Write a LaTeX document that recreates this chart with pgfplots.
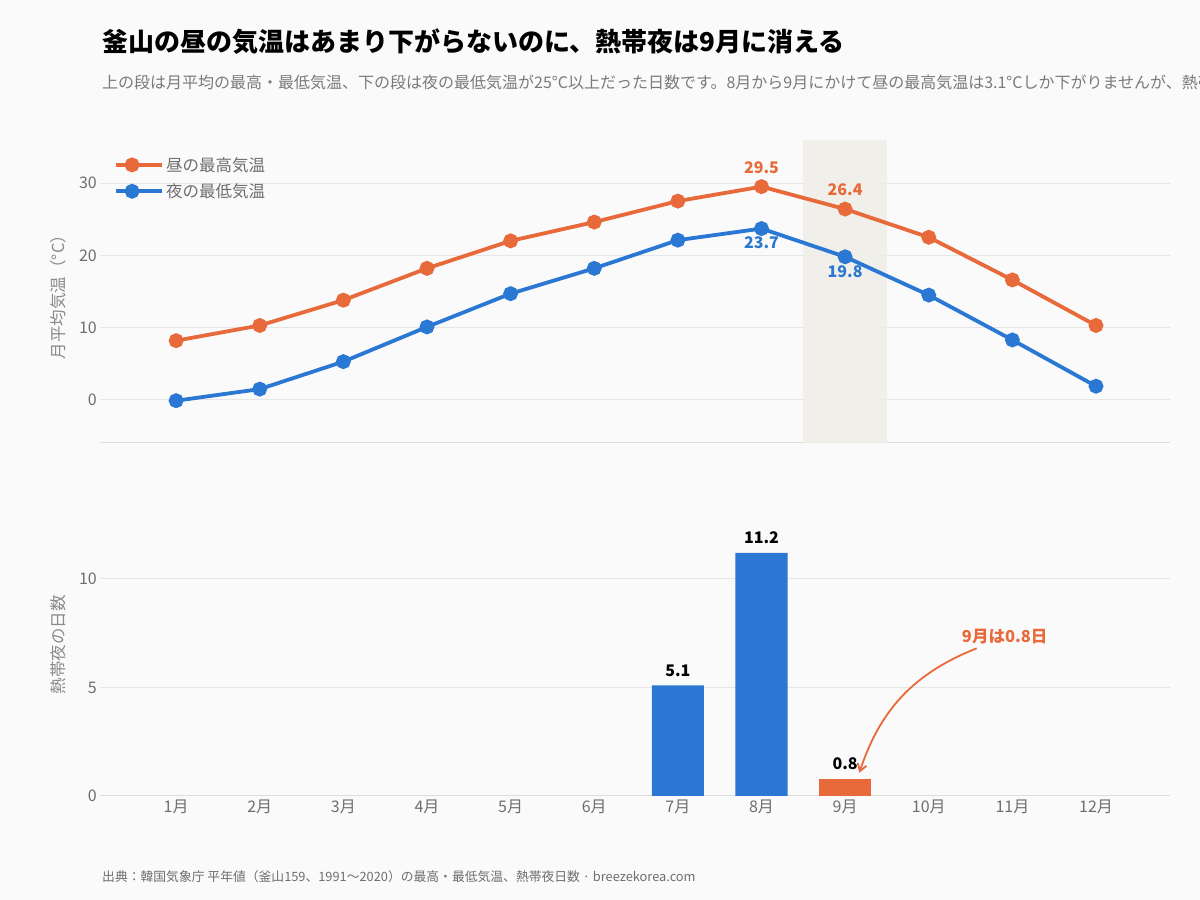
\documentclass[border=0pt]{standalone}
\usepackage{fontspec}
\setmainfont{Noto Sans CJK JP}
\usepackage{pgfplots}
\pgfplotsset{compat=1.18}
\usetikzlibrary{arrows.meta}

\definecolor{orn}{HTML}{E8693A}
\definecolor{blu}{HTML}{2A78D3}
\definecolor{bg}{HTML}{FAFAFA}
\definecolor{band}{HTML}{EFEEE8}
\definecolor{gridc}{HTML}{E6E6E6}
\definecolor{basec}{HTML}{DDDDDD}
\definecolor{tickc}{HTML}{6E6E6E}
\definecolor{labc}{HTML}{8A8A8A}
\definecolor{subc}{HTML}{7A7A7A}

\pgfplotsset{
  chartbase/.style={
    scale only axis, width=1070pt,
    xmin=0.09, xmax=12.885,
    /pgf/number format/assume math mode=true,
    separate axis lines,
    axis x line*=bottom, axis y line*=left,
    y axis line style={draw=none},
    x axis line style={draw=basec, line width=1pt},
    major tick length=0pt,
    ymajorgrids, grid style={gridc, line width=1pt},
    ticklabel style={font=\fontsize{16}{19}\selectfont, text=tickc},
    yticklabel style={inner sep=0pt, xshift=-3pt},
    clip=false,
  },
}

\begin{document}
\begin{tikzpicture}
\fill[bg] (0pt,0pt) rectangle (1200pt,900pt);
\useasboundingbox (0pt,0pt) rectangle (1200pt,900pt);
\begin{scope}
\clip (0pt,0pt) rectangle (1200pt,900pt);
\node[anchor=west, inner sep=0pt, font=\fontsize{26}{30}\selectfont\bfseries] at (102pt,858pt)
  {釜山の昼の気温はあまり下がらないのに、熱帯夜は9月に消える};
\node[anchor=west, inner sep=0pt, text=subc, font=\fontsize{16}{19}\selectfont] at (102pt,818pt)
  {上の段は月平均の最高・最低気温、下の段は夜の最低気温が25°C以上だった日数です。8月から9月にかけて昼の最高気温は3.1°Cしか下がりませんが、熱帯夜は};
\end{scope}

\node[rotate=90, text=labc, font=\fontsize{16.5}{19}\selectfont] at (58pt,607pt) {月平均気温（°C）};
\node[rotate=90, text=labc, font=\fontsize{16.5}{19}\selectfont] at (58pt,255pt) {熱帯夜の日数};

% upper panel: monthly mean max / min temperature
\begin{axis}[chartbase,
  at={(100pt,457pt)}, anchor=south west, height=303pt,
  ymin=-5.95, ymax=35.95, ytick={0,10,20,30}, xtick=\empty,
  legend style={at={(rel axis cs:0,1)}, anchor=north west, xshift=14pt, yshift=-15pt,
    draw=none, fill=none, inner sep=0pt, row sep=7pt,
    font=\fontsize{16.5}{19}\selectfont, text=tickc},
  legend cell align=left,
  legend image code/.code={\draw[mark repeat=2, mark phase=2] plot coordinates {(0pt,0pt)(16pt,0pt)(32pt,0pt)};
    \path (0pt,0pt) -- (46pt,0pt);},
]
\addplot[draw=none, fill=band, fill opacity=0.85, forget plot]
  coordinates {(8.5,-5.95) (9.5,-5.95) (9.5,35.95) (8.5,35.95)} -- cycle;
\addplot[orn, line width=3.8pt, mark=*, mark size=5.5pt, mark options={solid, fill=orn, draw=none}]
  coordinates {(1,8.2) (2,10.3) (3,13.8) (4,18.2) (5,22.0) (6,24.6) (7,27.5) (8,29.5) (9,26.4) (10,22.5) (11,16.6) (12,10.3)};
\addlegendentry{昼の最高気温}
\addplot[blu, line width=3.8pt, mark=*, mark size=5.5pt, mark options={solid, fill=blu, draw=none}]
  coordinates {(1,-0.1) (2,1.5) (3,5.3) (4,10.1) (5,14.7) (6,18.2) (7,22.1) (8,23.7) (9,19.8) (10,14.5) (11,8.3) (12,1.9)};
\addlegendentry{夜の最低気温}
\node[text=orn, font=\fontsize{16}{19}\selectfont\bfseries] at (axis cs:8,32.07) {29.5};
\node[text=orn, font=\fontsize{16}{19}\selectfont\bfseries] at (axis cs:9,29.03) {26.4};
\node[text=blu, font=\fontsize{16}{19}\selectfont\bfseries] at (axis cs:8,21.7) {23.7};
\node[text=blu, font=\fontsize{16}{19}\selectfont\bfseries] at (axis cs:9,17.7) {19.8};
\end{axis}

% lower panel: tropical nights
\begin{axis}[chartbase,
  at={(100pt,104pt)}, anchor=south west, height=271.25pt,
  ymin=0, ymax=12.5, ytick={0,5,10},
  xtick={1,...,12},
  xticklabels={1月,2月,3月,4月,5月,6月,7月,8月,9月,10月,11月,12月},
  xticklabel style={inner sep=0pt, yshift=-4pt},
  ybar, bar width=52pt, bar shift=0pt,
  nodes near coords,
  every node near coord/.append style={anchor=center, yshift=15pt, text=black,
    font=\fontsize{16}{19}\selectfont\bfseries,
    /pgf/number format/fixed, /pgf/number format/precision=1, /pgf/number format/fixed zerofill},
]
\addplot[draw=none, fill=blu] coordinates {(7,5.1) (8,11.2)};
\addplot[draw=none, fill=orn] coordinates {(9,0.8)};
\node[text=orn, font=\fontsize{16.5}{19}\selectfont\bfseries] at (axis cs:10.908,7.34) {9月は0.8日};
\draw[orn, line width=1.8pt, -{Straight Barb[length=7pt,width=9pt]}]
  (axis cs:10.573,6.806) to[bend right=25] (axis cs:9.170,1.074);
\end{axis}

\node[anchor=west, inner sep=0pt, text=tickc, font=\fontsize{12.8}{15}\selectfont] at (102pt,23pt)
  {出典：韓国気象庁 平年値（釜山159、1991〜2020）の最高・最低気温、熱帯夜日数 · breezekorea.com};
\end{tikzpicture}
\end{document}
